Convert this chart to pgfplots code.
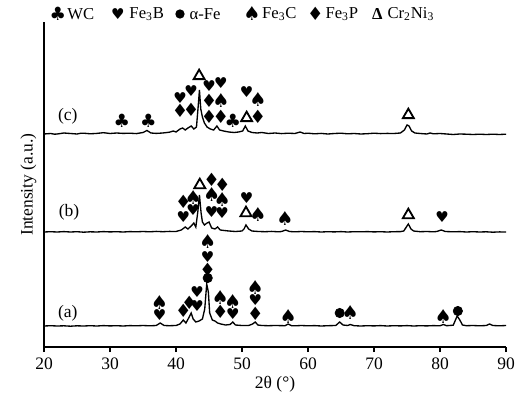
\documentclass[border=0pt]{standalone}
\usepackage{pgfplots}
\pgfplotsset{compat=1.18}
\usepackage{fontspec}
\setmainfont{Liberation Serif}
\newfontfamily\sym{DejaVu Sans}
\newcommand{\symsz}[1]{\sym\fontsize{#1}{#1}\selectfont}
\pgfplotsset{
  suit/.style 2 args={only marks, mark=text, text mark={#1}, text mark as node=true,
    text mark style={font=\symsz{#2}, inner sep=0pt}},
}
\begin{document}
\begin{tikzpicture}
\begin{axis}[
  scale only axis, width=277.2pt, height=195pt,
  xmin=20, xmax=90, ymin=0, ymax=325,
  axis x line=bottom, axis y line=left,
  axis line style={-, line width=0.8pt},
  xtick={20,30,...,90}, ytick=\empty,
  tick align=outside, major tick length=3pt,
  tick style={line width=0.8pt, black},
  x tick label style={font=\fontsize{10.5}{12}\selectfont, /pgf/number format/assume math mode=true},
  xlabel={2θ (°)}, ylabel={Intensity (a.u.)},
  label style={font=\fontsize{10.5}{12}\selectfont},
  xlabel style={yshift=3pt},
  ylabel style={yshift=-2pt},
  clip=false,
]
% curve (c)
\addplot[black, line width=0.8pt] coordinates {
(20,213)(21,213.5)(21.6,212.8)(22,213)(23,214)(24,213.5)(25,213)(25.6,213.8)(26,213.8)(27,213.2)(28,213.6)(29,214.3)(30,213.5)(31,214)(32,213.6)(33,213.8)(34,213.4)(35,214.5)(35.6,216.5)(36.2,214)(37,213.6)(38,214)(39,214.8)(39.6,216)(40,215)(40.6,218)(41.0,219)(41.4,217)(41.8,219)(42.3,221)(42.7,218)(43.1,220)(43.35,240)(43.55,257)(43.75,238)(44.0,230)(44.3,224)(44.7,220)(45.2,218)(45.7,217)(46.2,221)(46.6,217)(47.2,216)(48,215)(48.8,214.5)(49.5,215)(50.1,216)(50.5,221)(50.9,216)(51.5,214.5)(52.3,214)(53,214.5)(54,213.5)(55,214)(56,213.4)(57,213.8)(58,213.5)(58.8,215)(59.4,213.5)(60,213.8)(61,213.2)(62,213.6)(63,213)(64,213.5)(65,213.8)(66,213.2)(67,213.5)(68,213)(69,213.3)(70,213.8)(71,213.4)(72,213.6)(73,213.5)(74,214)(74.6,217)(75.0,222)(75.3,221)(75.7,216)(76.2,214)(77,213.5)(78,213)(78.5,214)(79,213.2)(80,213.5)(81,213)(82,212.5)(83,213)(84,212.8)(85,212.5)(86,212.8)(87,212.5)(88,212.8)(89,212.5)(90,212.8)};
% curve (b)
\addplot[black, line width=0.8pt] coordinates {
(20,115)(21,115.3)(22,115)(23,115.4)(24,115)(25,115.3)(26,114.8)(27,115.2)(28,115)(29,115.4)(30,115.1)(31,115.3)(32,115)(33,115.4)(34,115.2)(35,115.5)(36,115.2)(37,115.6)(38,115.3)(39,115.6)(40,115.5)(40.8,117)(41.4,120)(41.8,118)(42.3,121)(42.7,124)(43.0,120)(43.3,135)(43.55,152)(43.8,134)(44.0,125)(44.3,122)(44.7,124)(45.0,125)(45.4,119)(45.9,118)(46.3,120)(46.7,117)(47.3,116.5)(48,116)(49,115.5)(50,116)(50.3,118)(50.6,122)(51.0,118)(51.5,116)(52.5,115.5)(53.5,115.3)(54.5,115.6)(55.5,115.2)(56,115.5)(56.6,117)(57.2,115.5)(58,115.2)(59,115.5)(60,115.2)(61,115.4)(62,115)(63,115.3)(64,115.1)(65,115.4)(66,115)(67,115.3)(68,115.2)(69,115.4)(70,115.1)(71,115.3)(72,115)(73,115.3)(74,115.4)(74.5,116)(75.0,121)(75.2,123)(75.6,118)(76,116)(77,115.3)(78,115.5)(79,115.2)(79.5,115.5)(80.2,117)(80.8,115.5)(82,115.2)(83,115.4)(84,115)(85,115.3)(86,115)(87,115.2)(88,114.8)(89,115.1)(90,115)};
% curve (a)
\addplot[black, line width=0.8pt] coordinates {
(20,21)(21,21.3)(22,21)(23,21.2)(24,20.8)(25,21.2)(26,21)(27,21.3)(28,21)(29,21.4)(30,21.1)(31,21.3)(32,21)(33,21.4)(34,21.2)(35,21.5)(36,21.2)(37,21.5)(37.6,24)(38.2,21.5)(39,21.3)(40,21.5)(40.6,23)(41.1,27)(41.5,24)(42.0,30)(42.3,34)(42.6,28)(43.0,25)(43.5,26)(44.0,28)(44.35,38)(44.65,63)(44.9,55)(45.1,34)(45.5,27)(45.9,26)(46.3,24)(46.8,23)(47.5,22)(48.2,22.5)(48.6,25)(49.0,22)(50,21.5)(51,21.5)(51.6,23)(52,25)(52.4,22)(53,21.5)(54,21.3)(55,21.5)(56.5,21.3)(57,23)(57.5,21.3)(58,21.2)(59,21.5)(60,21.2)(61,21.4)(62,21)(63,21.3)(64.2,21.5)(64.8,25)(65.3,22)(66,21.5)(66.4,22.5)(67,21.3)(68,21)(69,21.3)(70,21.1)(71,21.4)(72,21)(73,21.3)(74,21.1)(75,21.4)(76,21)(77,21.3)(78,21.1)(79,21.4)(80,21.2)(80.5,22.5)(81,21.3)(82,21.8)(82.6,31)(83.0,27)(83.4,22)(84,21.3)(85,21.5)(86,21.2)(87,21.5)(87.5,23)(88,21.5)(89,21.2)(90,21.5)};
% WC
\addplot[suit={♣}{11}] coordinates {(31.8,226)(35.8,226)(48.6,226)};
% Fe3B
\addplot[suit={♥}{9}] coordinates {(40.6,249)(42.3,256)(45.0,261)(46.8,264)(50.7,255)
 (41.1,130)(42.6,137)(45.4,135)(47.0,134)(50.7,149)(80.3,130)
 (37.5,32)(43.2,55)(43.2,41)(44.8,90)(48.6,33)(52.0,47)};
% Fe3C
\addplot[suit={♠}{11.5}] coordinates {(46.8,246)(52.4,247)
 (42.6,149)(45.4,152)(47.0,147)(52.4,132)(56.5,128)
 (37.5,44)(44.8,105)(46.7,49)(48.6,45)(52.0,59)(57.0,30)(66.4,34)(80.5,30)};
% Fe3P
\addplot[suit={♦}{11}] coordinates {(40.6,236)(42.3,237)(45.0,246)(45.0,230)(46.8,230)(52.4,230)
 (45.4,167)(47.0,162)(41.1,145)
 (41.1,36)(42.0,44)(44.8,77)(46.7,35)(52.0,33)};
% alpha-Fe
\addplot[only marks, mark=*, mark size=2.8pt, black] coordinates {(44.8,69)(64.8,34)(82.7,36)};
% Cr2Ni3
\addplot[only marks, mark=triangle, mark size=3.8pt, mark options={line width=1.1pt, black}] coordinates {(43.5,271)(50.7,229)(75.2,232)(43.6,162)(50.6,134)(75.2,132)};
% labels
\node[font=\fontsize{10.5}{12}\selectfont] at (axis cs:23.6,231) {(c)};
\node[font=\fontsize{10.5}{12}\selectfont] at (axis cs:23.8,135) {(b)};
\node[font=\fontsize{10.5}{12}\selectfont] at (axis cs:23.6,34) {(a)};
% legend
\node[font=\symsz{11}] at (axis cs:22.1,333) {♣};
\node[anchor=west, inner sep=0pt, font=\fontsize{10}{12}\selectfont] at (axis cs:23.5,333) {WC};
\node[font=\symsz{9}] at (axis cs:31.2,333) {♥};
\node[anchor=west, inner sep=0pt, font=\fontsize{10}{12}\selectfont] at (axis cs:32.9,333) {Fe\textsubscript{3}B};
\node[circle, fill=black, inner sep=0pt, minimum size=5.6pt] at (axis cs:40.6,333) {};
\node[anchor=west, inner sep=0pt, font=\fontsize{10}{12}\selectfont] at (axis cs:42.0,333) {α-Fe};
\node[font=\symsz{11.5}] at (axis cs:51.5,333) {♠};
\node[anchor=west, inner sep=0pt, font=\fontsize{10}{12}\selectfont] at (axis cs:53.0,333) {Fe\textsubscript{3}C};
\node[font=\symsz{11}] at (axis cs:61.1,333) {♦};
\node[anchor=west, inner sep=0pt, font=\fontsize{10}{12}\selectfont] at (axis cs:62.6,333) {Fe\textsubscript{3}P};
\node[font=\fontsize{10}{12}\selectfont\bfseries] at (axis cs:70.5,333) {Δ};
\node[anchor=west, inner sep=0pt, font=\fontsize{10}{12}\selectfont] at (axis cs:72.0,333) {Cr\textsubscript{2}Ni\textsubscript{3}};
\coordinate (bbSW) at (axis cs:13.33,-51);
\coordinate (bbNE) at (axis cs:92.27,347);
\end{axis}
\pgfresetboundingbox
\path (bbSW) rectangle (bbNE);
\end{tikzpicture}
\end{document}
